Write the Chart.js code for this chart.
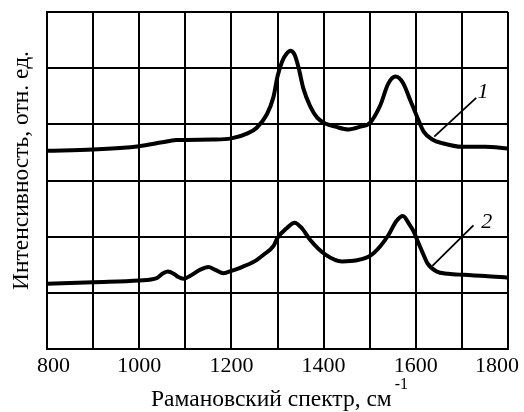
<!DOCTYPE html>
<html>
<head>
<meta charset="utf-8">
<script src="https://cdn.jsdelivr.net/npm/chart.js@4.4.0/dist/chart.umd.min.js"></script>
<style>
  html, body { margin: 0; padding: 0; background: #fff; }
  canvas { display: block; }
</style>
</head>
<body>
<canvas id="raman" width="524" height="412"></canvas>
<script>
// Спектр 1 (верхняя кривая)
const wave1 = [800, 900, 1000, 1050, 1080, 1160, 1200, 1235, 1255, 1277, 1291, 1300, 1310, 1320, 1328, 1337, 1346, 1356, 1371, 1386, 1405, 1425, 1454, 1480, 1500, 1523, 1540, 1556, 1572, 1588, 1602, 1617, 1638, 1655, 1700, 1750, 1800];
const int1 = [3.53, 3.55, 3.61, 3.68, 3.72, 3.73, 3.75, 3.84, 3.94, 4.18, 4.48, 4.85, 5.12, 5.26, 5.31, 5.24, 5.00, 4.64, 4.32, 4.12, 4.01, 3.96, 3.91, 3.96, 4.02, 4.34, 4.72, 4.85, 4.74, 4.43, 4.15, 3.87, 3.72, 3.67, 3.60, 3.60, 3.57];

// Спектр 2 (нижняя кривая)
const wave2 = [800, 900, 1000, 1038, 1050, 1062, 1075, 1085, 1096, 1110, 1132, 1150, 1165, 1183, 1200, 1220, 1250, 1270, 1291, 1300, 1320, 1337, 1353, 1371, 1404, 1440, 1472, 1501, 1523, 1540, 1558, 1572, 1586, 1595, 1603, 1613, 1625, 1645, 1670, 1704, 1750, 1800];
const int2 = [1.16, 1.19, 1.22, 1.26, 1.34, 1.38, 1.34, 1.28, 1.25, 1.30, 1.41, 1.46, 1.41, 1.35, 1.39, 1.45, 1.56, 1.68, 1.83, 1.98, 2.15, 2.25, 2.15, 1.94, 1.68, 1.56, 1.58, 1.66, 1.83, 2.02, 2.28, 2.37, 2.22, 2.10, 1.94, 1.75, 1.53, 1.38, 1.34, 1.32, 1.30, 1.27];

// Подписи оси X
const xTicks = [800, 1000, 1200, 1400, 1600, 1800];

const xTitle = 'Рамановский спектр, см';
const xTitleSup = '-1';
const yTitle = 'Интенсивность, отн. ед.';

// Номера кривых с выносками (в координатах графика)
const curveLabels = [
    { text: '1', from: [1640, 3.78], to: [1731, 4.47], at: [1734, 4.47] },
    { text: '2', from: [1636, 1.48], to: [1725, 2.20], at: [1742, 2.16] }
];

function toPoints(xs, ys) {
    return xs.map((x, i) => ({ x: x, y: ys[i] }));
}

const SERIF = '"Liberation Serif", "Times New Roman", serif';

// Плагин для подписей осей и номеров кривых
const labelsPlugin = {
    id: 'labelsPlugin',
    afterDraw(chart) {
        const ctx = chart.ctx;
        const sx = chart.scales.x;
        const sy = chart.scales.y;
        const area = chart.chartArea;
        ctx.save();
        ctx.fillStyle = '#000';

        // подписи делений
        ctx.font = '22px ' + SERIF;
        ctx.textBaseline = 'alphabetic';
        xTicks.forEach((v, i) => {
            let px = sx.getPixelForValue(v);
            ctx.textAlign = 'center';
            if (i === 0) { ctx.textAlign = 'left'; px -= 10; }
            if (i === xTicks.length - 1) { ctx.textAlign = 'right'; px += 11; }
            ctx.fillText(String(v), px, area.bottom + 23);
        });

        // заголовок оси X
        ctx.font = '23.5px ' + SERIF;
        ctx.textAlign = 'left';
        const w = ctx.measureText(xTitle).width;
        const x0 = 151;
        ctx.fillText(xTitle, x0, area.bottom + 57);
        ctx.font = '16px ' + SERIF;
        ctx.fillText(xTitleSup, x0 + w + 3, area.bottom + 40);

        // заголовок оси Y
        ctx.font = '23.5px ' + SERIF;
        ctx.translate(28, 170.5);
        ctx.rotate(-Math.PI / 2);
        ctx.textAlign = 'center';
        ctx.fillText(yTitle, 0, 0);
        ctx.setTransform(1, 0, 0, 1, 0, 0);

        // выноски
        ctx.strokeStyle = '#000';
        ctx.lineWidth = 1.8;
        ctx.font = 'italic 22px ' + SERIF;
        ctx.textAlign = 'left';
        curveLabels.forEach(l => {
            ctx.beginPath();
            ctx.moveTo(sx.getPixelForValue(l.from[0]), sy.getPixelForValue(l.from[1]));
            ctx.lineTo(sx.getPixelForValue(l.to[0]), sy.getPixelForValue(l.to[1]));
            ctx.stroke();
            ctx.fillText(l.text, sx.getPixelForValue(l.at[0]), sy.getPixelForValue(l.at[1]));
        });
        ctx.restore();
    }
};

const ctx = document.getElementById('raman').getContext('2d');

new Chart(ctx, {
    type: 'line',
    data: {
        datasets: [
            {
                data: toPoints(wave1, int1),
                borderColor: '#000',
                borderWidth: 4,
                pointRadius: 0,
                cubicInterpolationMode: 'monotone',
                fill: false
            },
            {
                data: toPoints(wave2, int2),
                borderColor: '#000',
                borderWidth: 4,
                pointRadius: 0,
                cubicInterpolationMode: 'monotone',
                fill: false
            }
        ]
    },
    options: {
        responsive: false,
        animation: false,
        devicePixelRatio: 1,
        layout: {
            padding: { left: 47, right: 16, top: 12, bottom: 63 }
        },
        plugins: {
            legend: { display: false },
            tooltip: { enabled: false }
        },
        scales: {
            x: {
                type: 'linear',
                min: 800,
                max: 1800,
                ticks: { stepSize: 100, display: false },
                grid: { color: '#000', lineWidth: 2, drawTicks: false },
                border: { color: '#000', width: 2 }
            },
            y: {
                min: 0,
                max: 6,
                ticks: { stepSize: 1, display: false },
                grid: { color: '#000', lineWidth: 2, drawTicks: false },
                border: { color: '#000', width: 2 }
            }
        }
    },
    plugins: [labelsPlugin]
});
</script>
</body>
</html>
